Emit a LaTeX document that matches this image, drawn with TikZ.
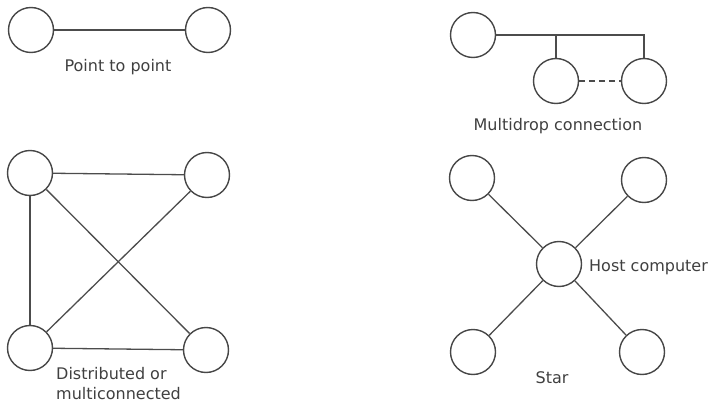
\documentclass[tikz,border=0pt]{standalone}
\usepackage{fontspec}
\setmainfont{DejaVu Sans}
\begin{document}
\begin{tikzpicture}[x=1pt,y=-1pt,
  stn/.style={circle,draw=black!72,line width=1.4pt,minimum size=45pt,inner sep=0pt},
  conn/.style={draw=black!70,line width=1.3pt},
  lbl/.style={text=black!75,font=\fontsize{16}{19}\selectfont,inner sep=0pt}]
\useasboundingbox (0,0) rectangle (710,404);
% Point to point
\node[stn] (p1) at (31,30) {};
\node[stn] (p2) at (208,30) {};
\draw[conn] (p1) -- (p2);
\node[lbl,anchor=base] (lp) at (118,72) {Point to point};
% Multidrop
\node[stn] (m1) at (473,35) {};
\node[stn] (m2) at (556,81) {};
\node[stn] (m3) at (644,81) {};
\draw[conn] (m1.east) -- (m3.north |- m1.east) -- (m3.north);
\draw[conn] (m2.north) -- (m2.north |- m1.east);
\draw[conn,dashed,dash pattern=on 6pt off 4pt] (m2.east) -- (m3.west);
\node[lbl,anchor=base] (lm) at (558,131) {Multidrop connection};
% Distributed
\node[stn] (d1) at (30,173) {};
\node[stn] (d2) at (207,175) {};
\node[stn] (d3) at (30,348) {};
\node[stn] (d4) at (206,350) {};
\draw[conn] (d1) -- (d2);
\draw[conn] (d1) -- (d3);
\draw[conn] (d3) -- (d4);
\draw[conn] (d1) -- (d4);
\draw[conn] (d3) -- (d2);
\node[lbl,anchor=base west] (ld1) at (56,379) {Distributed or};
\node[lbl,anchor=base west] (ld2) at (56,399) {multiconnected};
% Star
\node[stn] (s0) at (559,264) {};
\node[stn] (s1) at (472,178) {};
\node[stn] (s2) at (644,180) {};
\node[stn] (s3) at (473,352) {};
\node[stn] (s4) at (642,352) {};
\foreach \n in {s1,s2,s3,s4} \draw[conn] (s0) -- (\n);
\node[lbl,anchor=base west] (lh) at (589,271) {Host computer};
\node[lbl,anchor=base] (ls) at (552,383) {Star};
\end{tikzpicture}
\end{document}
